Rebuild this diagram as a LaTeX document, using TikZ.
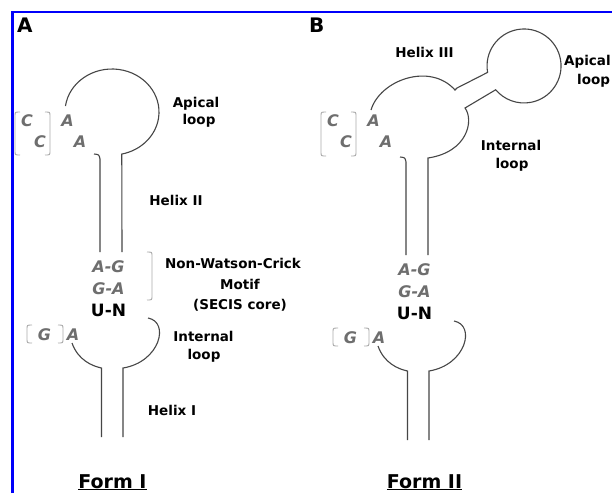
\documentclass[tikz,border=0pt]{standalone}
\usepackage{fontspec}
\setmainfont{DejaVu Sans}
\definecolor{frameblue}{RGB}{0,0,250}
\definecolor{nuccol}{RGB}{110,110,110}
\definecolor{brkcol}{RGB}{170,170,170}
\definecolor{strandcol}{RGB}{70,70,70}
\tikzset{
 strand/.style={draw=strandcol, line width=1.1pt},
 brk/.style={draw=brkcol, line width=0.9pt},
 nuc/.style={text=nuccol, font=\fontsize{16}{16}\selectfont\bfseries\itshape, inner sep=0pt},
 pairbk/.style={text=black, font=\fontsize{17}{17}\selectfont\bfseries, inner sep=0pt},
 lbl/.style={font=\fontsize{13.5}{14}\selectfont\bfseries, inner sep=0pt, anchor=base},
 lblw/.style={lbl, anchor=base west},
 panel/.style={font=\fontsize{20}{20}\selectfont\bfseries, inner sep=0pt, anchor=base west},
 formlbl/.style={font=\fontsize{19}{19}\selectfont\bfseries, inner sep=0pt, anchor=base},
}
\newcommand{\mylbrk}[3]{\draw[brk] (#1+5,#2) .. controls (#1,#2) .. (#1,#2+4) -- (#1,#3-4) .. controls (#1,#3) .. (#1+5,#3);}
\newcommand{\myrbrk}[3]{\draw[brk] (#1-5,#2) .. controls (#1,#2) .. (#1,#2+4) -- (#1,#3-4) .. controls (#1,#3) .. (#1-5,#3);}
\newcommand{\secislower}[1]{%
 \node[nuc] (#1ag) at (108.5,266.5) {A-G};
 \node[nuc] (#1ga) at (108.5,288.5) {G-A};
 \node[pairbk] (#1un) at (108.5,310.5) {U-N};
 \node[nuc] (#1g) at (44.5,334.5) {G};
 \node[nuc] (#1a) at (73,334.5) {A};
 \mylbrk{27}{325}{343}
 \myrbrk{63}{325}{343}
 \draw[strand] (148,318) .. controls (170,322) and (160,362) .. (123,368) -- (123,437);
 \draw[strand] (72,343) .. controls (78,360) and (92,366) .. (101.5,368) -- (101.5,437);
}
\begin{document}
\begin{tikzpicture}[x=1pt,y=-1pt]
\useasboundingbox (0,0) rectangle (612,493);
\fill[white] (0,0) rectangle (612,493);
\clip (0,0) rectangle (612,493);
\draw[frameblue, line width=2.5pt] (12.5,493) -- (12.5,12) -- (612,12);

% ---------- Panel A ----------
\node[panel] (pA) at (17,32.5) {A};
\coordinate (cA) at (112,112);
\draw[strand] (cA) ++(188:47 and 43) arc[start angle=188, end angle=438, x radius=47, y radius=43] -- (122,252);
\draw[strand] (94,154) .. controls (99,154.5) .. (100,159) -- (100,252);
\node[nuc] (cA1) at (27,121) {C};
\node[nuc] (cA2) at (40,141.5) {C};
\node[nuc] (aA1) at (67.5,121) {A};
\node[nuc] (aA2) at (80,141.7) {A};
\mylbrk{15}{112}{155}
\myrbrk{50}{112}{155}
\myrbrk{152}{252}{300}
\secislower{A}
\node[lbl] (apA1) at (196,107.5) {Apical};
\node[lbl] (apA2) at (199,124.5) {loop};
\node[lbl] (h2A) at (176,205) {Helix II};
\node[lbl] (nwc1) at (233,268) {Non-Watson-Crick};
\node[lbl] (nwc2) at (240,289.5) {Motif};
\node[lbl] (nwc3) at (240,309.5) {(SECIS core)};
\node[lbl] (ilA1) at (203.5,341) {Internal};
\node[lbl] (ilA2) at (204,359.5) {loop};
\node[lbl] (h1A) at (172,415) {Helix I};
\node[formlbl] (fA) at (112.5,488) {\underline{Form I}};

% ---------- Panel B ----------
\node[panel] (pB) at (309,32) {B};
\draw[strand] (371,110) .. controls (380,80) and (430,62) .. (455,90) -- (457,88) -- (487.6,72.4)
  arc[start angle=170, end angle=500, radius=37] -- (465,108)
  .. controls (474,120) and (468,152) .. (428,158) -- (428,255);
\draw[strand] (400,157) .. controls (405,157.5) .. (406,162) -- (406,255);
\node[nuc] (cB1) at (333,121) {C};
\node[nuc] (cB2) at (346,141.5) {C};
\node[nuc] (aB1) at (373.5,121) {A};
\node[nuc] (aB2) at (386,141.7) {A};
\mylbrk{321}{112}{156}
\myrbrk{356}{112}{156}
\begin{scope}[shift={(306,3)}]
\secislower{B}
\end{scope}
\node[lbl] (h3B) at (424.5,57) {Helix III};
\node[lblw] (apB1) at (564,65.5) {Apical};
\node[lblw] (apB2) at (577,84.5) {loop};
\node[lbl] (ilB1) at (511,150) {Internal};
\node[lbl] (ilB2) at (512,168) {loop};
\node[formlbl] (fB) at (424.5,488) {\underline{Form II}};
\end{tikzpicture}
\end{document}
